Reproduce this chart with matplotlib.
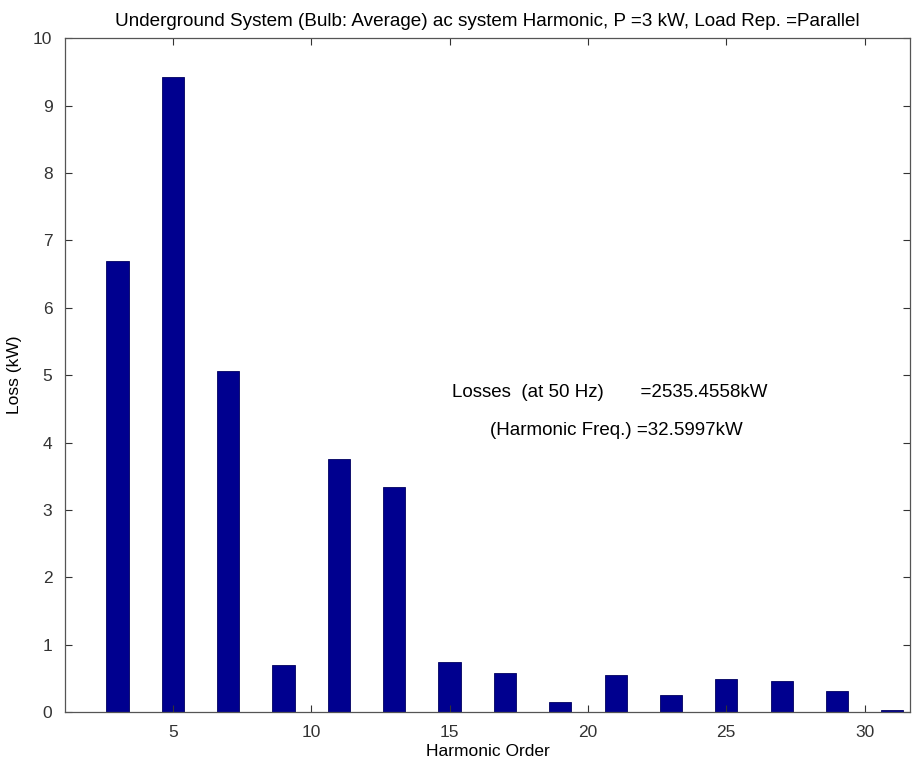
import matplotlib
matplotlib.use("Agg")
import matplotlib.pyplot as plt

plt.rcParams['font.family'] = ['Liberation Sans', 'DejaVu Sans']

# harmonic orders and the loss at each (kW)
orders = [3, 5, 7, 9, 11, 13, 15, 17, 19, 21, 23, 25, 27, 29, 31]
losses = [6.69, 9.43, 5.06, 0.70, 3.75, 3.34, 0.75, 0.58, 0.15, 0.55,
          0.25, 0.50, 0.46, 0.31, 0.04]

xticks = [5, 10, 15, 20, 25, 30]
yticks = list(range(0, 11))

title = "Underground System (Bulb: Average) ac system Harmonic, P =3 kW, Load Rep. =Parallel"
note1 = "Losses  (at 50 Hz)       =2535.4558kW"
note2 = "(Harmonic Freq.) =32.5997kW"

fig = plt.figure(figsize=(9.14, 7.65), dpi=100)
ax = fig.add_axes([0.071, 0.069, 0.925, 0.881])

ax.bar(orders, losses, width=0.8, color='#00008F', edgecolor='#000060', linewidth=0.6)

ax.set_xlim(1.1, 31.65)
ax.set_ylim(0, 10)
ax.set_xticks(xticks)
ax.set_yticks(yticks)
ax.tick_params(direction='in', length=5, width=0.8, top=True, right=True,
               labelsize=12.5, colors='#333333', pad=9)
for s in ax.spines.values():
    s.set_color('#555555')
    s.set_linewidth(0.9)

ax.set_title(title, fontsize=13.6, pad=9)
ax.set_xlabel("Harmonic Order", fontsize=12.5, labelpad=3)
ax.set_ylabel("Loss (kW)", fontsize=12.5, labelpad=8)

ax.text(15.08, 4.75, note1, fontsize=13.5, va='center', ha='left')
ax.text(16.45, 4.18, note2, fontsize=13.5, va='center', ha='left')

fig.savefig("out.png", dpi=100)
